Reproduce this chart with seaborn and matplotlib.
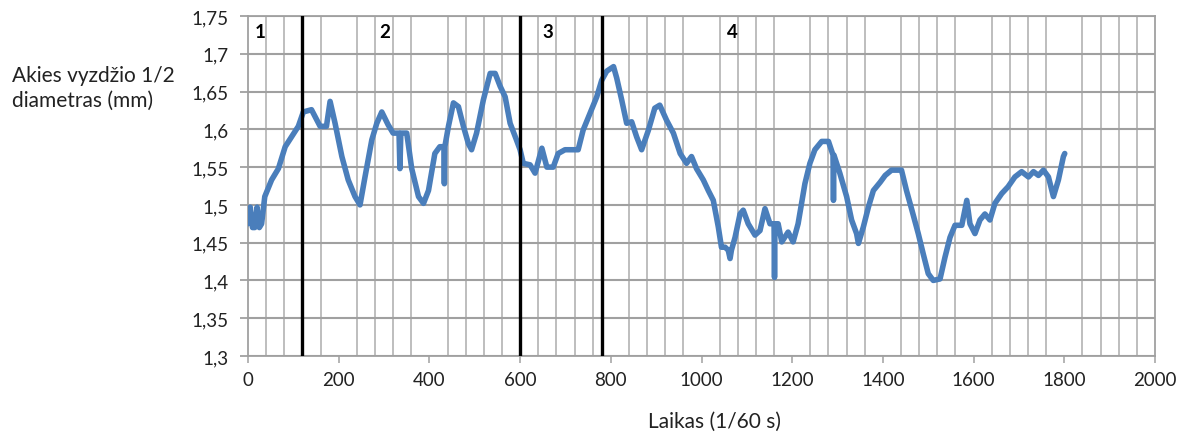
import matplotlib
matplotlib.use("Agg")
import matplotlib.pyplot as plt
import seaborn as sns
import pandas as pd
import numpy as np

# ---- data ----
time = [0, 5, 10, 15, 20, 25, 30, 37, 52, 67, 82, 96, 111, 122, 140, 159, 173, 181, 192, 207,
        221, 236, 247, 258, 273, 284, 295, 309, 320, 333, 335, 337, 350, 361, 376, 387, 398, 412,
        423, 432, 433, 434, 442, 453, 464, 475, 486, 493, 504, 519, 534, 545, 556, 567, 578, 592,
        600, 607, 622, 633, 648, 659, 673, 684, 699, 717, 728, 739, 754, 769, 780, 791, 806, 813,
        824, 835, 846, 857, 868, 883, 897, 908, 923, 938, 953, 967, 978, 989, 1004, 1015, 1026,
        1037, 1044, 1052, 1059, 1063, 1066, 1074, 1085, 1092, 1103, 1118, 1129, 1140, 1151, 1160,
        1161, 1162, 1169, 1177, 1191, 1202, 1213, 1228, 1239, 1250, 1265, 1280, 1290, 1291, 1292,
        1305, 1320, 1331, 1342, 1346, 1357, 1368, 1379, 1394, 1405, 1419, 1441, 1452, 1464, 1478,
        1489, 1500, 1511, 1526, 1537, 1548, 1559, 1574, 1585, 1592, 1603, 1614, 1625, 1636, 1647,
        1662, 1676, 1691, 1706, 1721, 1732, 1743, 1754, 1765, 1776, 1787, 1798, 1801]
diameter = [1.475, 1.497, 1.470, 1.470, 1.497, 1.470, 1.475, 1.511, 1.533, 1.548, 1.577, 1.590,
            1.604, 1.623, 1.626, 1.604, 1.604, 1.637, 1.608, 1.564,
            1.533, 1.511, 1.500, 1.537, 1.586, 1.608, 1.623, 1.606, 1.595, 1.595, 1.548, 1.595,
            1.595, 1.548, 1.511, 1.502, 1.519, 1.568,
            1.577, 1.577, 1.528, 1.577, 1.604, 1.635, 1.630, 1.604, 1.581, 1.573, 1.595, 1.639,
            1.674, 1.674, 1.657, 1.643, 1.608, 1.586,
            1.573, 1.555, 1.553, 1.542, 1.575, 1.550, 1.550, 1.568, 1.573, 1.573, 1.573, 1.599,
            1.621, 1.643, 1.665, 1.677, 1.683, 1.668,
            1.639, 1.608, 1.610, 1.590, 1.573, 1.599, 1.628, 1.632, 1.612, 1.595, 1.568, 1.555,
            1.564, 1.548, 1.533, 1.519, 1.506,
            1.471, 1.444, 1.444, 1.440, 1.429, 1.440, 1.457, 1.488, 1.493, 1.475, 1.460, 1.466,
            1.495, 1.475, 1.475,
            1.404, 1.475, 1.475, 1.451, 1.464, 1.451, 1.475, 1.528, 1.555, 1.573, 1.584, 1.584,
            1.566, 1.506, 1.566,
            1.542, 1.511, 1.480, 1.462, 1.449, 1.471, 1.497, 1.519, 1.530, 1.539, 1.546, 1.546,
            1.519, 1.493, 1.462,
            1.435, 1.409, 1.400, 1.402, 1.431, 1.457, 1.473, 1.473, 1.506, 1.475, 1.462, 1.480,
            1.488, 1.480, 1.502,
            1.515, 1.524, 1.537, 1.544, 1.537, 1.544, 1.539, 1.546, 1.537, 1.511, 1.533, 1.564,
            1.568]

phase_bounds = [120, 600, 780]
phase_labels = ["1", "2", "3", "4"]
phase_label_x = [26, 302, 662, 1069]

x_ticks = [0, 200, 400, 600, 800, 1000, 1200, 1400, 1600, 1800, 2000]
y_ticks = [1.3, 1.35, 1.4, 1.45, 1.5, 1.55, 1.6, 1.65, 1.7, 1.75]
y_tick_labels = ["1,3", "1,35", "1,4", "1,45", "1,5", "1,55", "1,6", "1,65", "1,7", "1,75"]

assert len(time) == len(diameter)
df = pd.DataFrame({"Laikas": time, "Diametras": diameter})

sns.set_style("white")
plt.rcParams["font.family"] = ["Lato", "DejaVu Sans"]

fig = plt.figure(figsize=(11.96, 4.35), dpi=100)
ax = fig.add_axes([248 / 1196, 1 - 357 / 435, (1155 - 248) / 1196, (357 - 17) / 435])

ax.set_xlim(0, 2000)
ax.set_ylim(1.3, 1.75)

# grid
ax.set_xticks(x_ticks)
ax.set_xticks(np.arange(0, 2001, 40), minor=True)
ax.set_yticks(y_ticks)
ax.set_yticklabels(y_tick_labels)
ax.grid(which="major", axis="y", color="#a0a0a0", linewidth=1.5, zorder=0)
ax.grid(which="minor", axis="x", color="#b3b3b3", linewidth=1.2, zorder=0)
ax.grid(which="major", axis="x", visible=False)
ax.set_axisbelow(True)

for s in ["top", "right", "left", "bottom"]:
    ax.spines[s].set_color("#a0a0a0")
    ax.spines[s].set_linewidth(1.3)

ax.tick_params(axis="x", which="major", length=5, width=1.1, color="#a0a0a0",
               labelsize=13.5, labelcolor="#222222", pad=6, bottom=True)
ax.tick_params(axis="x", which="minor", length=0)
ax.tick_params(axis="y", which="major", length=6, width=1.3, color="#a0a0a0",
               labelsize=13.5, labelcolor="#222222", pad=8, left=True)

sns.lineplot(data=df, x="Laikas", y="Diametras", ax=ax, color="#4A7EBB",
             linewidth=4.0, estimator=None, sort=False, zorder=3)

for b in phase_bounds:
    ax.axvline(b, color="black", linewidth=2.4, zorder=4)

for lab, lx in zip(phase_labels, phase_label_x):
    ax.text(lx, 1.729, lab, fontsize=13.5, fontweight="bold", color="black",
            ha="center", va="center", zorder=5)

ax.set_xlabel("Laikas (1/60 s)", fontsize=15, color="#222222")
ax.xaxis.set_label_coords(0.514, -0.16)
ax.set_ylabel("")

fig.text(12 / 1196, 1 - 88 / 435, "Akies vyzdžio 1/2\ndiametras (mm)", fontsize=15,
         color="#222222", ha="left", va="center", linespacing=1.3)

fig.savefig("out.png", dpi=100)
